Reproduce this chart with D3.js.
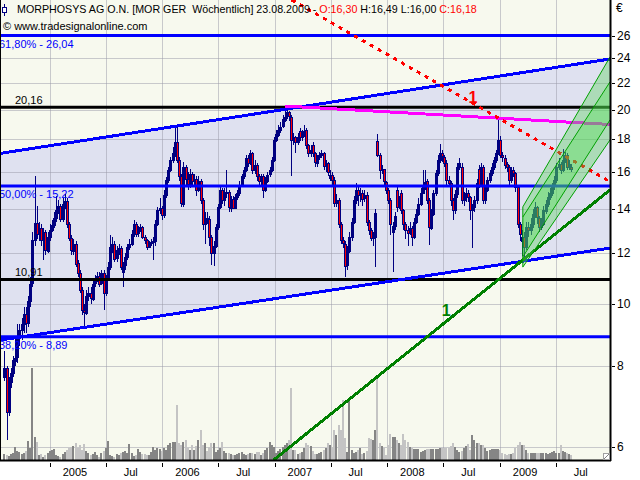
<!DOCTYPE html>
<html><head><meta charset="utf-8">
<script src="https://cdn.jsdelivr.net/npm/d3@7"></script>
<style>
body{margin:0;background:#fff}
svg{display:block}
text{font-family:"Liberation Sans",Arial,sans-serif}
</style>
</head><body>
<svg id="c" width="640" height="480"></svg>
<script>
// ---------------- data ----------------
const firstWeek = "2004-08-06";   // first weekly candle (Friday)
const axisStart = "2004-07-26", axisEnd = "2009-12-24";
const priceMin = 5.728, priceMax = 29.56;

const weekOpen = [7.7,7.95,6.8,7.55,7.8,8.17,8.25,8.9,9.1,9.3, 9.65,9.35,10.1,10.75,12.55,13.35,12.85,13.1,12.55,12.9, 12.1,12.7,13.0,13.25,13.6,13.97,14.2,13.55,14.3,14.45, 13.3,12.65,12.1,12.4,11.55,11.15,10.5,9.77,9.7,10.3, 10.4,10.2,10.75,10.88,11.05,10.75,11.15,10.4,11.0,11.4, 12.25,12.4,11.75,12.1,12.2,11.2,11.45,11.8,12.25,12.4, 12.85,13.3,12.85,13.0,13.15,12.7,12.55,12.25,12.4,12.45, 12.5,13.3,13.97,14.05,13.72,14.73,15.55,16.1,16.7,17.1, 17.8,16.7,15.75,14.3,16.3,15.6,15.3,15.9,15.5,15.6, 15.0,15.5,14.5,13.3,13.6,13.55,12.7,12.0,12.3,13.15, 14.1,15.0,14.5,14.85,14.9,14.1,14.55,14.1,14.65,14.85, 15.3,15.75,16.1,16.8,16.5,17.1,16.1,16.4,15.75,15.45, 15.75,15.0,15.5,15.85,16.1,16.7,17.94,18.3,18.6,18.8, 19.3,19.5,19.8,19.5,17.94,18.1,17.8,18.5,18.1,18.3, 18.6,17.6,17.1,17.6,17.1,16.55,16.85,17.0,17.1,16.3, 16.5,15.7,15.85,15.55,14.3,14.47,13.3,12.55,12.4,11.48, 12.1,12.7,13.4,14.47,15.0,14.73,14.85,14.55,14.73,13.4, 13.0,12.65,12.7,17.9,17.0,16.1,16.15,15.45,15.0,14.47, 12.9,13.2,15.0,14.1,14.85,13.97,13.3,13.0,12.85,13.1, 12.7,13.4,13.8,14.3,14.85,15.2,15.5,14.5,13.15,13.8, 14.85,15.95,16.7,17.1,16.9,16.55,15.55,15.4,14.47,13.97, 14.8,16.3,16.3,14.47,14.65,14.85,14.65,13.97,14.1,14.47, 16.2,15.3,16.3,14.47,15.0,15.55,15.95,16.3,16.7,17.1, 17.94,17.0,16.85,16.45,16.3,15.55,16.1,15.95,15.15,13.3, 12.5,12.7,12.25,13.15,13.0,13.3,13.8,14.1,13.6,13.15, 13.3,13.97,14.3,14.65,14.85,15.2,15.55,16.3,16.45,16.1, 16.7,17.0,16.3,16.30];

const weekHigh = [8.45,8.0,7.7,7.95,8.3,8.9,9.3,9.3,9.5,9.9, 9.9,10.3,11.0,12.9,15.8,14.2,13.4,13.3,13.1,13.0, 12.9,13.3,13.5,13.9,14.7,14.5,14.3,14.6,14.8,14.6, 13.4,12.8,12.6,12.5,11.7,11.3,10.6,10.0,10.5,10.6, 10.6,10.9,11.1,11.2,11.2,11.3,11.3,11.1,11.6,12.8, 12.7,12.5,12.3,12.4,12.3,11.6,12.0,12.4,12.6,13.0, 13.5,13.4,13.2,13.3,13.2,12.8,12.6,12.5,12.6,12.7, 13.5,14.1,14.6,14.2,15.0,15.7,16.3,16.9,17.5,18.9, 18.8,16.9,15.9,16.6,16.4,16.0,16.2,16.0,15.9,15.8, 15.8,15.6,14.6,13.9,13.9,13.7,12.8,12.5,13.3,14.3, 15.2,15.1,15.1,16.1,15.0,14.7,14.7,14.8,15.0,15.5, 15.9,16.3,17.0,17.0,17.3,17.2,16.7,16.5,15.9,15.9, 15.9,15.7,16.0,16.3,16.9,18.1,18.6,18.9,19.1,19.6, 20.2,20.0,19.9,19.6,18.4,18.2,18.4,18.7,18.6,18.9, 18.7,17.7,17.6,17.8,17.2,17.0,17.2,17.3,17.2,16.7, 16.6,16.1,16.0,15.7,14.8,14.6,13.4,12.7,12.5,12.3, 12.9,13.6,14.7,15.4,15.2,15.1,15.0,15.0,14.9,13.5, 13.1,12.9,14.0,18.3,17.1,16.4,16.2,15.5,15.1,14.6, 13.4,13.9,15.3,14.7,15.0,14.0,13.4,13.2,13.4,13.2, 13.6,14.0,14.6,15.1,16.1,16.1,15.6,14.6,14.0,15.0, 16.1,17.0,17.7,17.3,17.0,16.7,15.8,15.5,14.6,15.0, 16.5,16.8,16.5,14.9,15.1,15.0,14.7,14.3,14.7,15.6, 16.4,16.5,16.4,15.2,15.7,16.1,16.5,16.9,17.3,19.26, 18.2,17.2,17.0,16.6,16.4,16.3,16.3,16.0,15.3,13.4, 13.0,12.9,13.4,13.4,13.6,14.0,14.4,14.2,13.7,13.6, 14.2,14.5,14.9,15.1,15.4,15.8,16.5,16.8,16.6,17.4, 17.2,17.1,16.7,16.49];

const weekLow = [7.6,6.15,6.7,7.4,7.7,8.0,8.1,8.6,8.8,9.0, 9.0,9.2,9.9,10.6,12.3,12.6,12.5,12.3,11.7,11.9, 12.0,12.5,12.9,13.1,13.4,13.8,13.4,13.4,14.0,13.1, 12.5,11.9,11.9,11.4,11.0,10.4,9.6,9.2,9.6,10.1, 10.0,10.1,10.6,10.8,10.6,10.7,9.77,10.3,10.9,11.3, 12.0,11.6,11.6,11.9,11.3,10.6,11.3,11.7,12.1,12.3, 12.7,12.7,12.7,12.9,12.6,12.4,12.1,12.2,12.3,11.7, 12.3,13.2,13.8,13.5,13.6,14.6,15.4,16.0,16.5,16.9, 16.5,15.5,14.1,14.1,15.2,15.0,15.1,15.2,15.3,14.7, 14.9,14.3,13.0,12.4,13.3,12.3,11.5,11.45,12.2,13.0, 14.0,14.3,14.2,14.6,13.9,13.9,14.0,14.0,14.5,14.7, 15.2,15.6,16.0,16.3,16.4,15.9,15.9,15.5,15.2,15.3, 14.6,14.9,15.4,15.7,16.0,16.6,17.8,18.1,18.4,18.7, 19.1,19.3,19.2,15.8,17.6,17.1,17.6,17.9,17.9,18.1, 17.4,16.9,16.9,16.9,16.3,16.3,16.7,16.8,16.1,16.0, 15.8,15.5,15.3,14.1,14.1,13.1,12.4,12.2,11.0,11.3, 12.0,12.5,13.3,14.3,14.2,14.4,14.2,14.4,13.2,12.8, 12.5,12.3,11.4,16.9,15.6,15.9,15.3,14.8,14.3,12.8, 11.2,13.0,13.9,14.0,13.8,13.0,12.6,12.3,12.8,12.3, 12.6,13.3,13.7,14.2,14.8,15.0,14.3,12.33,13.0,13.7, 14.7,15.8,16.5,16.6,16.3,15.3,15.2,14.2,13.5,13.8, 14.6,16.1,14.3,14.2,14.4,14.4,13.5,12.2,13.9,14.3, 15.1,15.2,14.3,14.3,14.9,15.4,15.8,16.1,16.5,17.0, 16.8,16.6,16.2,16.0,15.3,15.4,15.7,14.9,13.1,12.5, 11.85,11.6,12.1,12.7,12.8,13.1,13.6,13.3,12.9,13.0, 13.2,13.8,14.1,14.5,14.7,15.0,15.4,16.1,15.9,16.0, 16.5,16.1,16.1,16.00];

const weekClose = [7.95,6.8,7.55,7.8,8.17,8.25,8.9,9.1,9.3,9.65, 9.35,10.1,10.75,12.55,13.35,12.85,13.1,12.55,12.9,12.1, 12.7,13.0,13.25,13.6,13.97,14.2,13.55,14.3,14.45,13.3, 12.65,12.1,12.4,11.55,11.15,10.5,9.77,9.7,10.3,10.4, 10.2,10.75,10.88,11.05,10.75,11.15,10.4,11.0,11.4,12.25, 12.4,11.75,12.1,12.2,11.4,11.45,11.8,12.25,12.4,12.85, 13.3,12.85,13.0,13.15,12.7,12.55,12.25,12.4,12.45,12.5, 13.3,13.97,14.05,13.72,14.73,15.55,16.1,16.7,17.1,17.8, 16.7,15.75,14.3,16.3,15.6,15.3,15.9,15.5,15.6,15.0, 15.5,14.5,13.3,13.6,13.55,12.7,12.0,12.3,13.15,14.1, 15.0,14.5,14.85,14.9,14.1,14.55,14.1,14.65,14.85,15.3, 15.75,16.1,16.8,16.5,17.1,16.1,16.4,15.75,15.45,15.75, 15.0,15.5,15.85,16.1,16.7,17.94,18.3,18.6,18.8,19.3, 19.5,19.8,19.5,17.94,18.1,17.8,18.1,18.1,18.3,18.5, 17.6,17.1,17.3,17.1,16.55,16.85,17.0,17.1,16.3,16.5, 16.0,15.85,15.55,14.3,14.47,13.3,12.55,12.4,11.48,12.1, 12.7,13.4,14.47,15.0,14.73,14.85,14.55,14.73,13.4,13.0, 12.65,12.7,13.85,17.0,16.1,16.15,15.45,15.0,14.47,13.3, 13.2,13.7,14.1,14.47,13.97,13.3,13.0,12.85,13.1,12.7, 13.4,13.8,14.3,14.85,15.2,15.45,14.5,13.15,13.8,14.85, 15.95,16.7,17.1,16.9,16.55,15.55,15.4,14.47,13.97,14.8, 16.3,16.55,14.47,14.65,14.85,14.65,13.97,14.1,14.47,15.4, 15.3,16.3,14.47,15.0,15.55,15.95,16.3,16.7,17.1,17.94, 17.0,16.85,16.45,16.3,15.55,16.1,15.95,15.15,13.3,12.85, 12.7,12.25,13.15,13.0,13.3,13.8,14.1,13.6,13.15,13.3, 13.97,14.3,14.65,14.85,15.2,15.55,16.3,16.45,16.1,16.7, 17.0,16.3,16.45,16.18];

// weekly volume (10,000 shares)
const weekVolume = [6,5,4,6,7,13,9,8,6,7, 9,19,12,92,23,18,5,6,3,5, 7,9,10,11,5,4,3,6,8,10, 12,13,14,17,12,15,10,16,9,7, 5,6,8,5,3,7,9,12,19,5, 4,3,6,5,7,8,9,7,16,7, 4,5,11,8,6,6,5,5,8,13, 10,12,11,9,12,10,15,17,18,18, 55,17,15,18,20,12,10,15,10,14, 20,30,15,17,9,13,17,17,8,10, 12,18,9,7,7,6,5,5,6,7, 8,6,5,6,7,7,6,8,8,5, 7,10,12,18,15,13,7,9,11,13, 15,17,20,72,10,10,6,7,8,12, 17,15,14,9,6,6,7,8,10,12, 17,15,13,30,25,35,30,60,22,8, 62,10,7,8,10,12,6,7,9,22, 21,20,30,82,17,14,12,5,15,26, 23,23,20,17,15,26,20,18,13,12, 11,11,11,8,9,10,11,11,11,11, 11,11,12,12,12,12,12,14,17,13, 10,8,9,12,14,16,10,25,20,17, 17,15,15,12,9,10,11,11,11,11, 10,7,6,5,6,6,7,12,15,18, 15,15,10,7,7,7,7,7,7,7, 7,7,6,7,8,9,7,7,15,9, 8,7,6,5];
const volumeMax = 100;

const yTicks = [6,8,10,12,14,16,18,20,22,24,26];
const xTickDates = ["2005-01-01","2005-07-01","2006-01-01","2006-07-01","2007-01-01","2007-07-01","2008-01-01","2008-07-01","2009-01-01","2009-07-01"];
const xTickLabels = ["2005","Jul","2006","Jul","2007","Jul","2008","Jul","2009","Jul"];

const fibLevels = [26.04, 15.22, 8.89];
const fibLabels = ["61,80% - 26,04", "50,00% - 15,22", "38,20% - 8,89"];
const keyLevels = [20.16, 10.91];
const keyLabels = ["20,16", "10,91"];

const channelUpper = [["2004-07-26", 17.11], ["2009-12-24", 23.95]];
const channelLower = [["2004-07-26", 8.79], ["2009-12-24", 12.20]];
const resistanceLine = [["2007-02-03", 20.25], ["2009-12-24", 18.96]];
const downTrend = [["2007-02-25", 29.56], ["2009-12-24", 15.46]];
const upTrend = [["2006-12-28", 5.728], ["2009-12-24", 15.01]];
const trendLabelDates = ["2008-10-05", "2008-07-10"];
const trendLabelPrices = [20.9, 9.78];

const greenChannelDates = ["2009-03-16", "2009-12-24"];
const greenStartPrices = [14.13, 13.63, 11.82, 11.40];
const greenEndPrices = [24.12, 22.07, 19.27, 17.94];

const titleMain = "MORPHOSYS AG O.N. [MOR GER  Wöchentlich] 23.08.2009 - ";
const quote = {O:"16,30", H:"16,49", L:"16,00", C:"16,18"};

// ---------------- chart ----------------
const svg = d3.select("#c");
const P = {left:1, right:610, top:0, bottom:460};
const parse = d3.utcParse("%Y-%m-%d");
const x = d3.scaleUtc().domain([parse(axisStart), parse(axisEnd)]).range([P.left, P.right]);
const y = d3.scaleLog().domain([priceMin, priceMax]).range([P.bottom, P.top]);
const vy = d3.scaleLinear().domain([0, volumeMax]).range([P.bottom, P.bottom - 100]);

const weeks = weekClose.map((c, i) => ({
  date: d3.utcDay.offset(parse(firstWeek), 7 * i),
  o: weekOpen[i], h: weekHigh[i], l: weekLow[i], c: c, v: weekVolume[i]
}));
const pt = d => [x(parse(d[0])), y(d[1])];

svg.append("rect").attr("width", 640).attr("height", 480).attr("fill", "#ffffff");
svg.append("defs").append("clipPath").attr("id", "clip")
  .append("rect").attr("x", P.left).attr("y", P.top)
  .attr("width", P.right - P.left).attr("height", P.bottom - P.top);

const g = svg.append("g").attr("clip-path", "url(#clip)");
g.append("rect").attr("x", P.left).attr("y", P.top)
  .attr("width", P.right - P.left).attr("height", P.bottom - P.top).attr("fill", "#f7f9ee");

// channel fill
g.append("polygon")
  .attr("points", [pt(channelUpper[0]), pt(channelUpper[1]), pt(channelLower[1]), pt(channelLower[0])].map(p => p.join(",")).join(" "))
  .attr("fill", "#dfe1f0");

// grid
g.selectAll(".vg").data(xTickDates).enter().append("line")
  .attr("x1", d => Math.round(x(parse(d))) + 0.5).attr("x2", d => Math.round(x(parse(d))) + 0.5)
  .attr("y1", P.top).attr("y2", P.bottom)
  .attr("stroke", "#9a9aa8").attr("stroke-opacity", 0.5);
g.selectAll(".hg").data(yTicks).enter().append("line")
  .attr("x1", P.left).attr("x2", P.right)
  .attr("y1", d => Math.round(y(d)) + 0.5).attr("y2", d => Math.round(y(d)) + 0.5)
  .attr("stroke", "#9a9aa8").attr("stroke-opacity", 0.5);

// volume
g.selectAll(".vol").data(weeks).enter().append("rect")
  .attr("x", d => Math.round(x(d.date)) - 1).attr("width", 2)
  .attr("y", d => vy(d.v)).attr("height", d => P.bottom - vy(d.v))
  .attr("fill", d => d.c >= d.o ? "#858585" : "#c4c4c4")
  .attr("shape-rendering", "crispEdges");

// candles
const cg = g.append("g").attr("shape-rendering", "crispEdges");
cg.selectAll(".wick").data(weeks).enter().append("line")
  .attr("x1", d => Math.round(x(d.date)) + 0.5).attr("x2", d => Math.round(x(d.date)) + 0.5)
  .attr("y1", d => Math.round(y(d.h))).attr("y2", d => Math.round(y(d.l)))
  .attr("stroke", "#000080").attr("stroke-width", 1);
cg.selectAll(".body").data(weeks).enter().append("rect")
  .attr("x", d => Math.round(x(d.date)) - 0.5).attr("width", 2)
  .attr("y", d => Math.round(y(Math.max(d.o, d.c))) + 0.5)
  .attr("height", d => Math.max(1, Math.round(Math.abs(y(d.o) - y(d.c)))))
  .attr("fill", d => d.c < d.o ? "#ff0000" : "none")
  .attr("stroke", "#000080").attr("stroke-width", 1);

// horizontal levels
g.selectAll(".fib").data(fibLevels).enter().append("line")
  .attr("x1", P.left).attr("x2", P.right).attr("y1", d => y(d)).attr("y2", d => y(d))
  .attr("stroke", "#0000ff").attr("stroke-width", 3);
g.selectAll(".key").data(keyLevels).enter().append("line")
  .attr("x1", P.left).attr("x2", P.right).attr("y1", d => y(d)).attr("y2", d => y(d))
  .attr("stroke", "#000000").attr("stroke-width", 3);

// trend / channel lines
const line2 = (pts, color, w, dash) => {
  const a = pt(pts[0]), b = pt(pts[1]);
  const l = g.append("line").attr("x1", a[0]).attr("y1", a[1]).attr("x2", b[0]).attr("y2", b[1])
    .attr("stroke", color).attr("stroke-width", w).attr("shape-rendering", "crispEdges");
  if (dash) l.attr("stroke-dasharray", dash);
  return l;
};
line2(channelUpper, "#0000ff", 3);
line2(channelLower, "#0000ff", 3);
line2(resistanceLine, "#ff00ff", 3);
line2(downTrend, "#ff0000", 3, "4,5");
line2(upTrend, "#008000", 3);

// green channel
const gp = k => [[greenChannelDates[0], greenStartPrices[k]], [greenChannelDates[1], greenEndPrices[k]]].map(pt);
const band = (a, b, fill, op) => {
  const A = gp(a), B = gp(b);
  g.append("polygon").attr("points", [A[0], A[1], B[1], B[0]].map(p => p.join(",")).join(" "))
    .attr("fill", fill).attr("fill-opacity", op);
};
band(0, 3, "#5ad25a", 0.38);
band(1, 2, "#3ee03e", 0.3);
[0, 1, 2, 3].forEach(k => {
  const A = gp(k);
  g.append("line").attr("x1", A[0][0]).attr("y1", A[0][1]).attr("x2", A[1][0]).attr("y2", A[1][1])
    .attr("stroke", "#00a000").attr("stroke-width", 1);
});
{
  const A = gp(0), D = gp(3);
  g.append("line").attr("x1", A[0][0]).attr("y1", A[0][1]).attr("x2", D[0][0]).attr("y2", D[0][1])
    .attr("stroke", "#00a000").attr("stroke-width", 1);
}

// trend labels
g.selectAll(".tl").data(trendLabelDates).enter().append("text")
  .attr("x", d => x(parse(d))).attr("y", (d, i) => y(trendLabelPrices[i]))
  .attr("dy", "0.35em").attr("text-anchor", "middle")
  .attr("font-size", 16).attr("font-weight", "bold")
  .attr("fill", (d, i) => i === 0 ? "#ff0000" : "#008000").text("1");

// level labels
g.selectAll(".fl").data(fibLevels).enter().append("text")
  .attr("x", -1).attr("y", d => y(d) + 12).attr("font-size", 11).attr("fill", "#0000ff")
  .text((d, i) => fibLabels[i]);
g.selectAll(".kl").data(keyLevels).enter().append("text")
  .attr("x", 15).attr("y", d => y(d) - 3).attr("font-size", 11).attr("fill", "#000000")
  .text((d, i) => keyLabels[i]);

// frame
svg.append("line").attr("x1", 0.5).attr("x2", 0.5).attr("y1", 0).attr("y2", P.bottom + 1).attr("stroke", "#000");
svg.append("line").attr("x1", P.right + 0.5).attr("x2", P.right + 0.5).attr("y1", 0).attr("y2", P.bottom + 1).attr("stroke", "#000").attr("stroke-width", 2);
svg.append("line").attr("x1", 0).attr("x2", P.right + 1).attr("y1", P.bottom + 0.5).attr("y2", P.bottom + 0.5).attr("stroke", "#000").attr("stroke-width", 2);
// resize grip
svg.append("rect").attr("x", 603.5).attr("y", 453.5).attr("width", 6).attr("height", 6).attr("fill", "#ffffff").attr("stroke", "#a0a0a0");
svg.append("line").attr("x1", 604).attr("y1", 459).attr("x2", 609).attr("y2", 454).attr("stroke", "#808080");

// y axis
const ya = svg.append("g");
ya.selectAll("line").data(yTicks).enter().append("line")
  .attr("x1", P.right + 2).attr("x2", P.right + 5)
  .attr("y1", d => Math.round(y(d)) + 0.5).attr("y2", d => Math.round(y(d)) + 0.5)
  .attr("stroke", "#000");
ya.selectAll("text").data(yTicks).enter().append("text")
  .attr("x", P.right + 7).attr("y", d => y(d) + 4)
  .attr("font-size", 12).attr("fill", "#000").text(d => d);
svg.append("text").attr("x", P.right + 6).attr("y", 12).attr("font-size", 12).text("€");

// x axis
const xa = svg.append("g");
xa.selectAll("line").data(xTickDates).enter().append("line")
  .attr("x1", d => Math.round(x(parse(d))) + 0.5).attr("x2", d => Math.round(x(parse(d))) + 0.5)
  .attr("y1", P.bottom + 3).attr("y2", P.bottom + 7).attr("stroke", "#000");
xa.selectAll("text").data(xTickDates).enter().append("text")
  .attr("x", d => x(parse(d)) + 25).attr("y", P.bottom + 16)
  .attr("text-anchor", "middle").attr("font-size", 11)
  .text((d, i) => xTickLabels[i]);

// title
const t1 = svg.append("text").attr("x", 17).attr("y", 13).attr("font-size", 10.7)
  .style("white-space", "pre");
t1.append("tspan").attr("fill", "#000").text(titleMain);
t1.append("tspan").attr("fill", "#ff0000").text("O:" + quote.O);
t1.append("tspan").attr("fill", "#000").text(" H:" + quote.H + " L:" + quote.L + " ");
t1.append("tspan").attr("fill", "#ff0000").text("C:" + quote.C);
svg.append("text").attr("x", 3).attr("y", 30).attr("font-size", 11).text("© www.tradesignalonline.com");
// instrument icon
svg.append("line").attr("x1", 4.5).attr("x2", 4.5).attr("y1", 4).attr("y2", 16).attr("stroke", "#000080");
svg.append("rect").attr("x", 2.5).attr("y", 7.5).attr("width", 4).attr("height", 5).attr("fill", "#fff").attr("stroke", "#000080");
</script>
</body></html>
